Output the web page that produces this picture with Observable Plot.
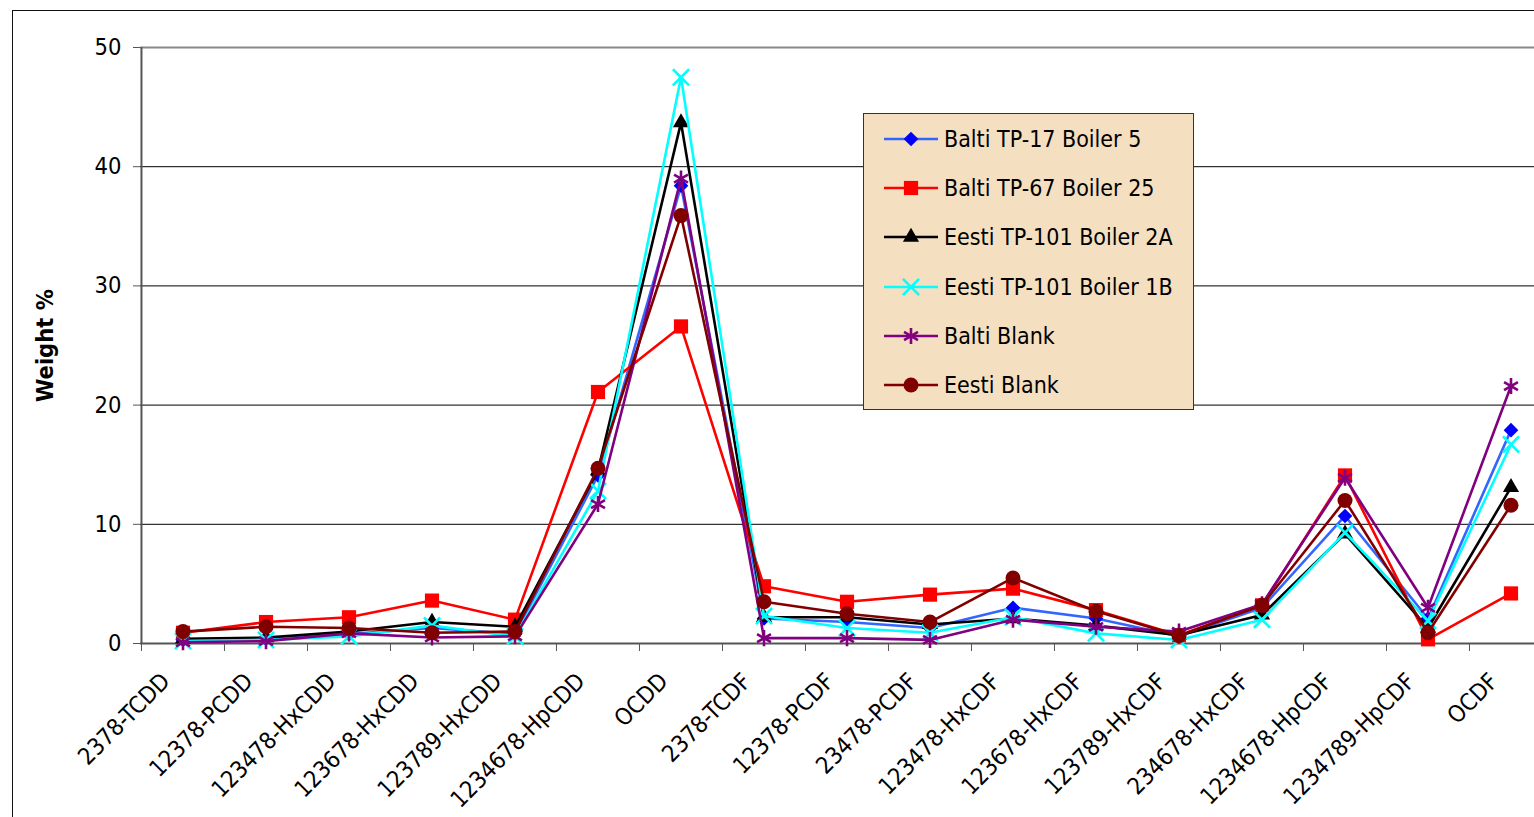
<!DOCTYPE html>
<html>
<head>
<meta charset="utf-8">
<script src="https://cdn.jsdelivr.net/npm/d3@7"></script>
<script src="https://cdn.jsdelivr.net/npm/@observablehq/plot@0.6"></script>
<style>
  html, body { margin: 0; padding: 0; background: #fff; overflow: hidden; }
  body { width: 1534px; height: 817px; position: relative; font-family: "DejaVu Sans Condensed", "DejaVu Sans", sans-serif; }
  #frame { position: absolute; left: 12px; top: 10px; width: 1600px; height: 900px; border-left: 1px solid #111; border-top: 1px solid #111; }
  #chart { position: absolute; left: 0; top: 0; }
  #legend { position: absolute; left: 863px; top: 113px; width: 329px; height: 295px; background: #F4DFC0; border: 1px solid #333; }
  .row { position: absolute; left: 0; height: 30px; display: flex; align-items: center; }
  .row svg { display: block; }
  .row span { font-size: 23px; color: #000; margin-left: 5px; white-space: nowrap; }
</style>
</head>
<body>
<div id="frame"></div>
<div id="chart"></div>
<div id="legend"></div>
<script>
const categories = ["2378-TCDD", "12378-PCDD", "123478-HxCDD", "123678-HxCDD", "123789-HxCDD", "1234678-HpCDD", "OCDD",
  "2378-TCDF", "12378-PCDF", "23478-PCDF", "123478-HxCDF", "123678-HxCDF", "123789-HxCDF", "234678-HxCDF",
  "1234678-HpCDF", "1234789-HpCDF", "OCDF"];
const seriesNames = ["Balti TP-17 Boiler 5", "Balti TP-67 Boiler 25", "Eesti TP-101 Boiler 2A", "Eesti TP-101 Boiler 1B", "Balti Blank", "Eesti Blank"];
const baltiTP17 = [0.3, 0.4, 0.8, 1.3, 0.8, 14.1, 38.4, 2.1, 1.8, 1.3, 3.0, 2.1, 0.6, 3.0, 10.7, 2.1, 17.9];
const baltiTP67 = [0.9, 1.8, 2.2, 3.6, 2.0, 21.1, 26.6, 4.8, 3.5, 4.1, 4.6, 2.8, 0.7, 3.2, 14.1, 0.35, 4.2];
const eesti2A = [0.4, 0.5, 1.0, 1.8, 1.4, 14.5, 43.7, 2.2, 2.2, 1.6, 2.1, 1.5, 0.7, 2.4, 9.2, 1.3, 13.1];
const eesti1B = [0.2, 0.3, 0.6, 1.5, 0.6, 12.8, 47.5, 2.3, 1.3, 0.9, 2.2, 0.85, 0.3, 2.0, 9.3, 1.9, 16.7];
const baltiBlank = [0.1, 0.2, 0.85, 0.5, 0.6, 11.7, 39.0, 0.45, 0.45, 0.3, 2.0, 1.4, 1.0, 3.3, 13.9, 3.0, 21.6];
const eestiBlank = [1.0, 1.4, 1.3, 0.9, 1.0, 14.7, 35.9, 3.5, 2.5, 1.8, 5.5, 2.7, 0.65, 3.2, 12.0, 0.9, 11.6];
const yTicks = [0, 10, 20, 30, 40, 50];
const yTitle = "Weight %";

const styles = [
  {values: baltiTP17, line: "#3366FF", marker: "#0000FF", symbol: "diamond2", r: 6.6, filled: true},
  {values: baltiTP67, line: "#FF0000", marker: "#FF0000", symbol: "square", r: 8.0, filled: true},
  {values: eesti2A, line: "#000000", marker: "#000000", symbol: "triangle", r: 6.0, filled: true},
  {values: eesti1B, line: "#00FFFF", marker: "#00FFFF", symbol: "times", r: 7.4, filled: false},
  {values: baltiBlank, line: "#800080", marker: "#800080", symbol: "asterisk", r: 7.6, filled: false},
  {values: eestiBlank, line: "#800000", marker: "#800000", symbol: "circle", r: 7.5, filled: true}
];

const xStart = 140, xEnd = 1552;
const step = (xEnd - xStart) / categories.length;

const seriesMarks = styles.flatMap((s, k) => {
  const rows = categories.map((c, i) => ({category: c, value: s.values[i], series: seriesNames[k]}));
  return [
    Plot.line(rows, {x: "category", y: "value", stroke: s.line, strokeWidth: 2.6}),
    Plot.dot(rows, s.filled
      ? {x: "category", y: "value", symbol: s.symbol, r: s.r, fill: s.marker, stroke: "none"}
      : {x: "category", y: "value", symbol: s.symbol, r: s.r, fill: "none", stroke: s.marker, strokeWidth: 2.6})
  ];
});

const chart = Plot.plot({
  width: 1534,
  height: 817,
  marginLeft: 140,
  marginRight: 0,
  marginTop: 47,
  marginBottom: 174,
  x: {type: "band", domain: categories, range: [xStart, xEnd], padding: 0},
  y: {domain: [0, 50]},
  style: {fontFamily: '"DejaVu Sans Condensed", "DejaVu Sans", sans-serif', background: "transparent", color: "#000", overflow: "visible"},
  marks: [
    Plot.ruleY([10, 20, 30, 40], {stroke: "#000", strokeWidth: 1}),
    Plot.ruleY([50], {stroke: "#888", strokeWidth: 2}),
    Plot.ruleX([categories[0]], {dx: -step / 2, y1: 0, y2: 50, stroke: "#555", strokeWidth: 2}),
    Plot.ruleY([0], {stroke: "#555", strokeWidth: 2}),
    Plot.axisY({ticks: yTicks, tickSize: 7, tickPadding: 12, fontSize: 23.5, stroke: "#555", label: null}),
    Plot.axisX({tickSize: 8, tickFormat: () => "", dx: -step / 2, stroke: "#555", label: null}),
    Plot.axisX({tickSize: 0, tickRotate: -45, tickPadding: 34, dx: -17, fontSize: 23.5, label: null}),
    Plot.text([yTitle], {text: d => d, frameAnchor: "left", textAnchor: "middle", rotate: -90, dx: -95, fontWeight: "bold", fontSize: 23.5}),
    ...seriesMarks
  ]
});
document.getElementById("chart").appendChild(chart);

// Legend
const legend = d3.select("#legend");
const symMap = {diamond2: d3.symbolDiamond2, square: d3.symbolSquare, triangle: d3.symbolTriangle, times: d3.symbolTimes, asterisk: d3.symbolAsterisk, circle: d3.symbolCircle};
styles.forEach((s, k) => {
  const row = legend.append("div").attr("class", "row").style("top", (10 + k * 49.2) + "px").style("left", "19px");
  const svg = row.append("svg").attr("width", 56).attr("height", 30);
  svg.append("line").attr("x1", 1).attr("x2", 55).attr("y1", 15).attr("y2", 15).attr("stroke", s.line).attr("stroke-width", 2.6);
  const path = d3.symbol(symMap[s.symbol], Math.PI * s.r * s.r)();
  const p = svg.append("path").attr("d", path).attr("transform", "translate(28,15)");
  if (s.filled) p.attr("fill", s.marker);
  else p.attr("fill", "none").attr("stroke", s.marker).attr("stroke-width", 2.6);
  row.append("span").text(seriesNames[k]);
});
</script>
</body>
</html>
